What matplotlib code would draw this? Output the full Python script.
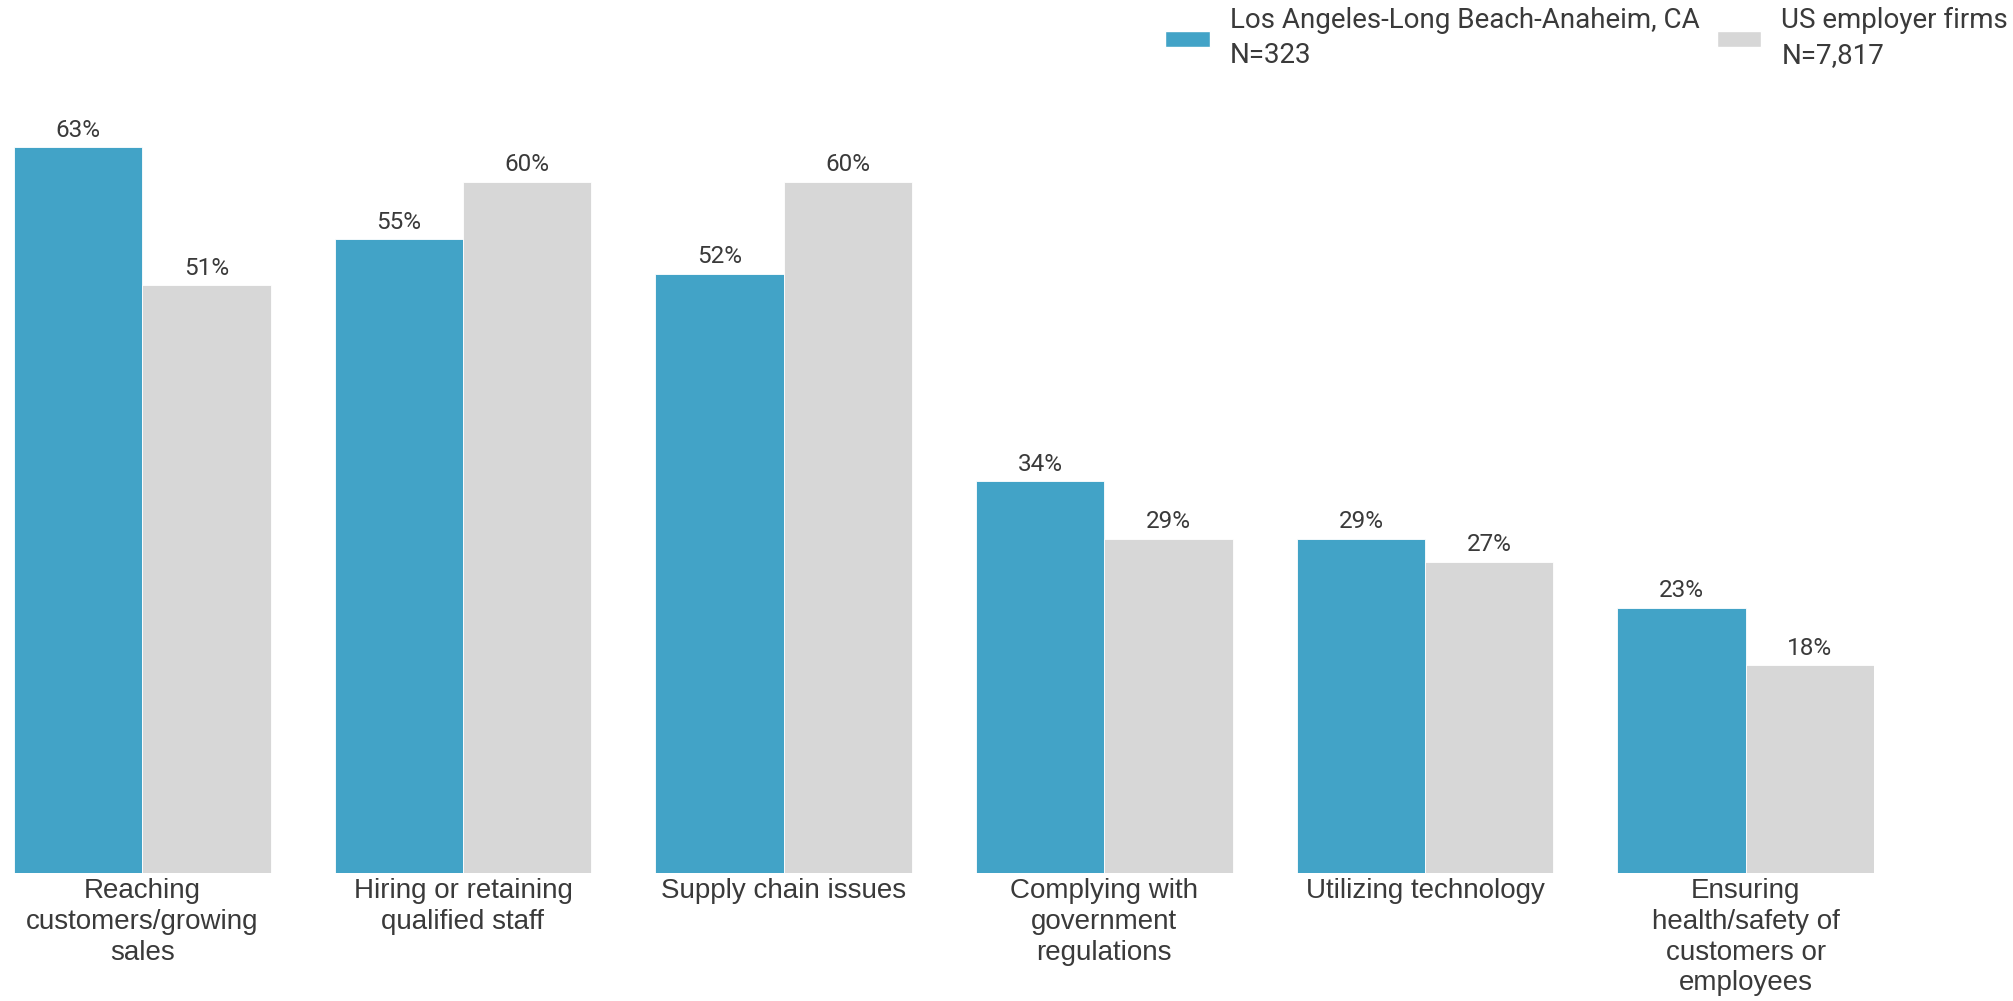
import matplotlib.pyplot as plt
import numpy as np
from matplotlib.patches import Patch

# challenges data
categories = [
    "Reaching\ncustomers/growing\nsales",
    "Hiring or retaining\nqualified staff",
    "Supply chain issues",
    "Complying with\ngovernment\nregulations",
    "Utilizing technology",
    "Ensuring\nhealth/safety of\ncustomers or\nemployees",
]
la_values = [63, 55, 52, 34, 29, 23]
us_values = [51, 60, 60, 29, 27, 18]
series_names = [
    "Los Angeles-Long Beach-Anaheim, CA\nN=323",
    "US employer firms\nN=7,817",
]

blue = "#42A3C7"
gray = "#D7D7D7"
text_color = "#3a3a3a"

W, H = 2013, 1001
fig = plt.figure(figsize=(W / 100, H / 100), dpi=100)

# axes placed in pixel terms
left_px, right_px = 14, 1874
base_px, top_px = 872.5, 66.8
ax = fig.add_axes([left_px / W, (H - base_px) / H,
                   (right_px - left_px) / W, (base_px - top_px) / H])

x = np.arange(len(categories))
width = 0.4

bars_la = ax.bar(x - width / 2, la_values, width, color=blue,
                 edgecolor="white", linewidth=0.6)
bars_us = ax.bar(x + width / 2, us_values, width, color=gray,
                 edgecolor="white", linewidth=0.6)

for bars in (bars_la, bars_us):
    for b in bars:
        h = b.get_height()
        ax.annotate(f"{h:.0f}%", (b.get_x() + b.get_width() / 2, h),
                    xytext=(0, 4), textcoords="offset points",
                    ha="center", va="bottom", fontsize=17.5,
                    family="Roboto", color=text_color)

ax.set_xlim(-0.4, len(categories) - 0.6)
ax.set_ylim(0, 70)
ax.set_xticks(x)
ax.set_xticklabels(categories, fontsize=20, family="Liberation Sans",
                   color=text_color, linespacing=1.24)
ax.tick_params(axis="x", length=0, pad=4)
ax.set_yticks([])
for s in ax.spines.values():
    s.set_visible(False)

handles = [Patch(facecolor=blue, edgecolor="white"),
           Patch(facecolor=gray, edgecolor="white")]
leg = fig.legend(handles, series_names, loc="upper right",
                 bbox_to_anchor=(2008 / W, 1 - 7 / H), ncol=2, frameon=False,
                 prop={"family": "Roboto", "size": 20}, labelcolor=text_color,
                 handlelength=1.6, handleheight=0.5, handletextpad=0.72,
                 columnspacing=0.62, borderpad=0, borderaxespad=0)
for t in leg.get_texts():
    t.set_linespacing(1.4)

fig.savefig("out.png", dpi=100, facecolor="white")
